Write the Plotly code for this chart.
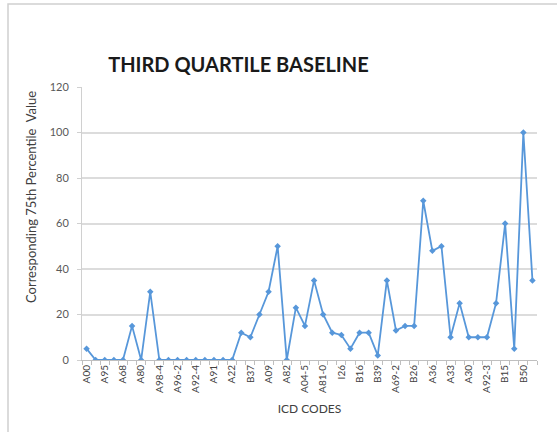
import plotly.graph_objects as go

# Third-quartile (75th percentile) baseline per ICD code
icd_labels = ["A00", "A95", "A68", "A80", "A98-4", "A96-2", "A92-4", "A91", "A22",
              "B37", "A09", "A82", "A04-5", "A81-0", "I26", "B16", "B39", "A69-2",
              "B26", "A36", "A33", "A30", "A92-3", "B15", "B50"]
values = [5, 0, 0, 0, 0, 15, 0, 30, 0, 0,
          0, 0, 0, 0, 0, 0, 0, 12, 10, 20,
          30, 50, 0, 23, 15, 35, 20, 12, 11, 5,
          12, 12, 2, 35, 13, 15, 15, 70, 48, 50,
          10, 25, 10, 10, 10, 25, 60, 5, 100, 35]
y_ticks = [0, 20, 40, 60, 80, 100, 120]

positions = list(range(len(values)))
label_positions = positions[::2]

font_family = "Lato, 'Open Sans', sans-serif"
line_blue = "#5797da"
grid_grey = "#dcdcdc"

fig = go.Figure()
fig.add_trace(go.Scatter(
    x=positions, y=values, mode="lines+markers",
    line=dict(color=line_blue, width=1.8),
    marker=dict(symbol="diamond", size=5, color=line_blue),
    hoverinfo="y", showlegend=False,
))

fig.update_layout(
    width=557, height=432,
    margin=dict(l=82, r=20, t=87, b=72),
    paper_bgcolor="white", plot_bgcolor="white",
    font=dict(family=font_family, color="#595959"),
    title=dict(text="<b>THIRD QUARTILE BASELINE</b>", x=0.428, xanchor="center",
               y=0.85, yanchor="middle", xref="container", yref="container",
               font=dict(size=20, color="#1a1a1a", family=font_family)),
    xaxis=dict(
        range=[-0.5, len(values) - 0.5],
        tickmode="array", tickvals=label_positions, ticktext=icd_labels,
        tickangle=-90, tickfont=dict(size=10, color="#404040"),
        ticks="", showgrid=False, zeroline=False,
        showline=True, linecolor="#bfbfbf", linewidth=1,
        minor=dict(tickmode="array",
                   tickvals=[p - 0.5 for p in range(len(values) + 1)],
                   ticks="outside", ticklen=4, tickcolor="#bfbfbf", showgrid=False),
        title=dict(text="ICD CODES", font=dict(size=12, color="#404040"), standoff=12),
    ),
    yaxis=dict(
        range=[0, 120], tickmode="array", tickvals=y_ticks,
        tickfont=dict(size=11, color="#595959"),
        showgrid=True, gridcolor=grid_grey, gridwidth=1.5,
        zeroline=False, showline=True, linecolor="#d0d0d0", linewidth=1,
        ticks="outside", ticklen=4, tickcolor="#d0d0d0", ticklabelstandoff=6,
    ),
    annotations=[dict(text="Corresponding 75th Percentile&nbsp;&nbsp;Value",
                      textangle=-90, xref="paper", yref="paper",
                      x=(31 - 82) / 455, y=(360 - 197) / 273,
                      xanchor="center", yanchor="middle", showarrow=False,
                      font=dict(size=13, color="#404040", family=font_family))],
    shapes=[dict(type="rect", xref="paper", yref="paper",
                 x0=(8 - 82) / 455, x1=(565 - 82) / 455,
                 y0=(360 - 440) / 273, y1=(360 - 4) / 273,
                 line=dict(color="#d0d0d0", width=1.5), fillcolor="rgba(0,0,0,0)",
                 layer="below")],
)

fig.write_html("out.html")
